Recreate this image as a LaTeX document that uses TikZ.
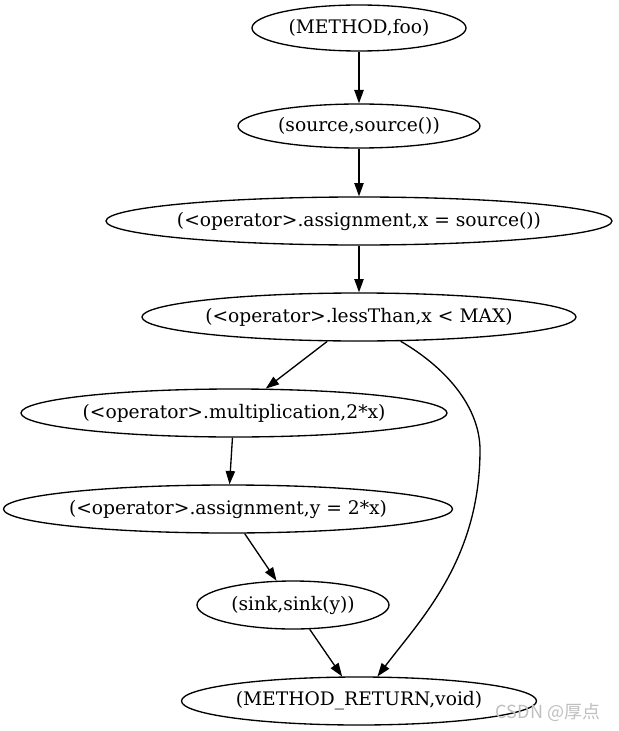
\documentclass[tikz,border=0pt]{standalone}
\usepackage{fontspec}
\setmainfont{DejaVu Serif}
\newfontfamily\wmfont{Noto Sans CJK SC}
\usetikzlibrary{arrows.meta,shapes.geometric}

% node text takes no room: the ellipse size comes from minimum width/height
\newcommand{\lbl}[1]{\makebox[0pt]{#1}}

\begin{document}
\begin{tikzpicture}[->, >={Triangle[length=10pt,width=7pt]}, line width=1pt, x=0.75pt, y=-0.75pt]
    \tikzstyle{every node}=[font=\fontsize{14}{16}\selectfont]
    \tikzstyle{fn}=[ellipse, draw=black, fill=white, inner sep=0pt, minimum height=36pt]
    \useasboundingbox (0,0) rectangle (618,731);
    \node[fn, minimum width=160.5pt, minimum height=34.5pt] (foo)    at (359,28)  {\lbl{(METHOD,foo)}};
    \node[fn, minimum width=181.5pt, minimum height=33pt]   (src)    at (359,126) {\lbl{(source,source())}};
    \node[fn, minimum width=379.5pt]  (asgx)   at (359,221) {\lbl{(<operator>.assignment,x = source())}};
    \node[fn, minimum width=325.5pt]  (lt)     at (359,317) {\lbl{(<operator>.lessThan,x < MAX)}};
    \node[fn, minimum width=319.5pt]  (mul)    at (234,413) {\lbl{(<operator>.multiplication,2*x)}};
    \node[fn, minimum width=336.75pt] (asgy)   at (228,509) {\lbl{(<operator>.assignment,y = 2*x)}};
    \node[fn, minimum width=144pt]    (sink)   at (293,605) {\lbl{(sink,sink(y))}};
    \node[fn, minimum width=266.25pt] (ret)    at (359,701) {\lbl{(METHOD\_RETURN,void)}};

    \node[font=\wmfont\fontsize{13.5}{15}\selectfont, text=black!25] (wm) at (548,712) {CSDN @厚点};

    \path
(foo)  edge (src)
(src)  edge (asgx)
(asgx) edge (lt)
(lt)   edge (mul)
(mul)  edge (asgy)
(asgy) edge (sink)
(sink) edge (ret);
    \draw (lt) .. controls (450,370) and (480,410) .. (480,450)
               .. controls (480,560) and (420,620) .. (ret);
\end{tikzpicture}
\end{document}
